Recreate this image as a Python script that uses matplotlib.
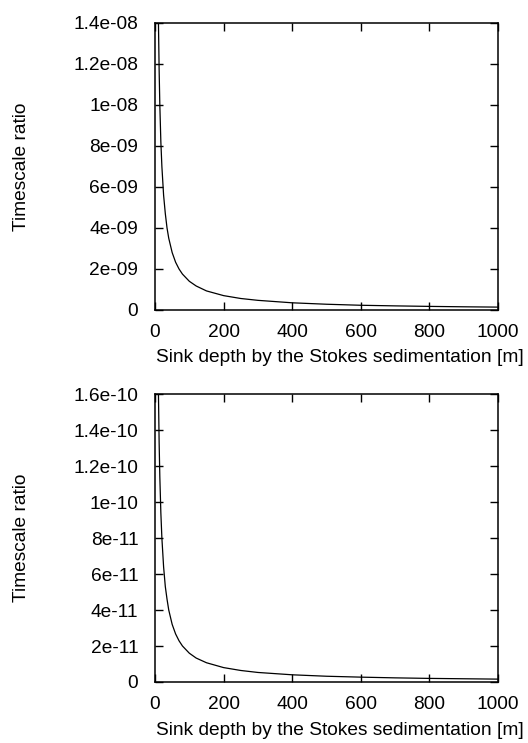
import numpy as np
import matplotlib
matplotlib.use('Agg')
import matplotlib.pyplot as plt
from matplotlib.ticker import FuncFormatter

plt.rcParams['font.family'] = ['Liberation Sans', 'DejaVu Sans']
plt.rcParams['font.size'] = 13.8

# values
depth = [10, 12, 14, 17, 20, 25, 30, 35, 40, 50, 60, 70, 80, 100, 120, 150,
         200, 250, 300, 400, 500, 600, 700, 800, 900, 1000]
ratio_top = [14e-9, 11.7e-9, 10e-9, 8.2e-9, 7e-9, 5.6e-9, 4.7e-9, 4.0e-9, 3.5e-9,
             2.8e-9, 2.33e-9, 2.0e-9, 1.75e-9, 1.4e-9, 1.17e-9, 0.93e-9, 0.70e-9,
             0.56e-9, 0.47e-9, 0.35e-9, 0.28e-9, 0.23e-9, 0.20e-9, 0.175e-9,
             0.155e-9, 0.14e-9]
ratio_bot = [16e-11, 13.3e-11, 11.4e-11, 9.4e-11, 8e-11, 6.4e-11, 5.3e-11, 4.6e-11,
             4.0e-11, 3.2e-11, 2.67e-11, 2.29e-11, 2.0e-11, 1.6e-11, 1.33e-11,
             1.07e-11, 0.8e-11, 0.64e-11, 0.53e-11, 0.4e-11, 0.32e-11, 0.27e-11,
             0.23e-11, 0.2e-11, 0.18e-11, 0.16e-11]

xticks = [0, 200, 400, 600, 800, 1000]
yticks_top = [0, 2e-9, 4e-9, 6e-9, 8e-9, 1e-8, 1.2e-8, 1.4e-8]
yticks_bot = [0, 2e-11, 4e-11, 6e-11, 8e-11, 1e-10, 1.2e-10, 1.4e-10, 1.6e-10]

xlab = 'Sink depth by the Stokes sedimentation [m]'
ylab = 'Timescale ratio'

fig = plt.figure(figsize=(5.28, 7.43), dpi=100)
ax1 = fig.add_axes([0.2936, 0.5828, 0.6496, 0.3863])
ax2 = fig.add_axes([0.2936, 0.0821, 0.6496, 0.3876])

panels = [(ax1, ratio_top, yticks_top, -0.164), (ax2, ratio_bot, yticks_bot, -0.167)]
for ax, ratio, yt, ylab_y in panels:
    ax.plot(depth, ratio, color='black', lw=0.9)
    ax.set_xlim(0, 1000)
    ax.set_ylim(yt[0], yt[-1])
    ax.set_xticks(xticks)
    ax.set_yticks(yt)
    ax.yaxis.set_major_formatter(FuncFormatter(lambda v, p: '%g' % v))
    ax.tick_params(direction='in', length=6, width=1, top=True, right=True)
    ax.tick_params(axis='x', pad=10)
    ax.tick_params(axis='y', pad=12)
    for s in ax.spines.values():
        s.set_linewidth(1.1)
    ax.set_xlabel(xlab)
    ax.xaxis.set_label_coords(0.539, ylab_y)
    ax.xaxis.label.set_va('center')
    ax.set_ylabel(ylab)
    ax.yaxis.set_label_coords(-0.39, 0.5)
    ax.yaxis.label.set_va('center')

fig.savefig('out.png', dpi=100)
